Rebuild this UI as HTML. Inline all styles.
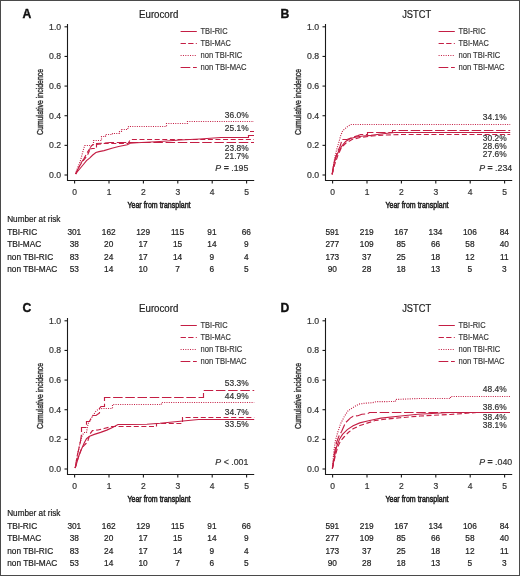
<!DOCTYPE html><html><head><meta charset="utf-8"><style>html,body{margin:0;padding:0;background:#fff;}svg{display:block;font-family:"Liberation Sans",sans-serif;will-change:transform;}text{stroke:currentColor;stroke-width:0.2px;}</style></head><body>
<svg width="520" height="576" viewBox="0 0 520 576">
<rect x="0" y="0" width="520" height="576" fill="#fff"/>
<text x="22.4" y="17.6" font-size="12.2" text-anchor="start" font-weight="bold" font-style="normal" fill="#111" color="#111" style="stroke-width:0.35px">A</text>
<text x="158.7" y="17.6" font-size="10" text-anchor="middle" font-weight="normal" font-style="normal" fill="#222" color="#222" textLength="39.3" lengthAdjust="spacingAndGlyphs">Eurocord</text>
<g stroke="#1a1a1a" stroke-width="1.1" fill="none">
<path d="M67.5 24V180.5H254.2"/>
<path d="M64.5 175H67.5"/>
<path d="M74.6 180.5V183.5"/>
<path d="M64.5 145.36H67.5"/>
<path d="M109 180.5V183.5"/>
<path d="M64.5 115.72H67.5"/>
<path d="M143.4 180.5V183.5"/>
<path d="M64.5 86.08H67.5"/>
<path d="M177.8 180.5V183.5"/>
<path d="M64.5 56.44H67.5"/>
<path d="M212.2 180.5V183.5"/>
<path d="M64.5 26.8H67.5"/>
<path d="M246.6 180.5V183.5"/>
</g>
<text x="61.2" y="178" font-size="8.7" text-anchor="end" font-weight="normal" font-style="normal" fill="#333" color="#333">0.0</text>
<text x="74.6" y="194.9" font-size="8.5" text-anchor="middle" font-weight="normal" font-style="normal" fill="#333" color="#333">0</text>
<text x="61.2" y="148.36" font-size="8.7" text-anchor="end" font-weight="normal" font-style="normal" fill="#333" color="#333">0.2</text>
<text x="109" y="194.9" font-size="8.5" text-anchor="middle" font-weight="normal" font-style="normal" fill="#333" color="#333">1</text>
<text x="61.2" y="118.72" font-size="8.7" text-anchor="end" font-weight="normal" font-style="normal" fill="#333" color="#333">0.4</text>
<text x="143.4" y="194.9" font-size="8.5" text-anchor="middle" font-weight="normal" font-style="normal" fill="#333" color="#333">2</text>
<text x="61.2" y="89.08" font-size="8.7" text-anchor="end" font-weight="normal" font-style="normal" fill="#333" color="#333">0.6</text>
<text x="177.8" y="194.9" font-size="8.5" text-anchor="middle" font-weight="normal" font-style="normal" fill="#333" color="#333">3</text>
<text x="61.2" y="59.44" font-size="8.7" text-anchor="end" font-weight="normal" font-style="normal" fill="#333" color="#333">0.8</text>
<text x="212.2" y="194.9" font-size="8.5" text-anchor="middle" font-weight="normal" font-style="normal" fill="#333" color="#333">4</text>
<text x="61.2" y="29.8" font-size="8.7" text-anchor="end" font-weight="normal" font-style="normal" fill="#333" color="#333">1.0</text>
<text x="246.6" y="194.9" font-size="8.5" text-anchor="middle" font-weight="normal" font-style="normal" fill="#333" color="#333">5</text>
<text style="stroke-width:0.4px" transform="translate(42.8,101.9) rotate(-90)" font-size="9" text-anchor="middle" fill="#333" color="#333" textLength="66" lengthAdjust="spacingAndGlyphs">Cumulative incidence</text>
<text x="159" y="208.4" font-size="9.8" text-anchor="middle" font-weight="normal" font-style="normal" fill="#222" color="#222" textLength="63" lengthAdjust="spacingAndGlyphs" style="stroke-width:0.55px">Year from transplant</text>
<path d="M180.6 31.5H196.8" stroke="#c41e44" stroke-width="1" fill="none" />
<text x="200.5" y="33.8" font-size="8.4" text-anchor="start" font-weight="normal" font-style="normal" fill="#333" color="#333" textLength="27.1" lengthAdjust="spacingAndGlyphs" style="stroke-width:0.15px">TBI-RIC</text>
<path d="M180.6 43.5H196.8" stroke="#c41e44" stroke-width="1" fill="none" stroke-dasharray="5.3 2.3"/>
<text x="200.5" y="45.8" font-size="8.4" text-anchor="start" font-weight="normal" font-style="normal" fill="#333" color="#333" textLength="30.4" lengthAdjust="spacingAndGlyphs" style="stroke-width:0.15px">TBI-MAC</text>
<path d="M180.6 55.5H196.8" stroke="#c41e44" stroke-width="1" fill="none" stroke-dasharray="1 1.36"/>
<text x="200.5" y="57.8" font-size="8.4" text-anchor="start" font-weight="normal" font-style="normal" fill="#333" color="#333" textLength="41.8" lengthAdjust="spacingAndGlyphs" style="stroke-width:0.15px">non TBI-RIC</text>
<path d="M180.6 67.5H196.8" stroke="#c41e44" stroke-width="1" fill="none" stroke-dasharray="9.7 2.7"/>
<text x="200.5" y="69.8" font-size="8.4" text-anchor="start" font-weight="normal" font-style="normal" fill="#333" color="#333" textLength="46.1" lengthAdjust="spacingAndGlyphs" style="stroke-width:0.15px">non TBI-MAC</text>
<path d="M75.6 174 L76.5 170.6 L80.25 161.25 L84.6 145.5 H93.5 V140.5 H101.5 V136.5 H105.5 V134.5 H112.5 V133.5 H119.5 V131.5 L121.5 131.5 V129.5 H126.5 V128.5 H128.5 V126.5 H166.5 V123.5 H187.5 V121.5 H254" stroke="#c41e44" stroke-width="1.15" fill="none" stroke-dasharray="1 1.3"/>
<path d="M75.6 174 L78.5 168 L81 163 L84 158.5 L87 153 L89.5 149 L92.75 148.5 H96.5 V143.5 L104 143.1 L110 142.5 H254" stroke="#c41e44" stroke-width="1.15" fill="none" stroke-dasharray="9.5 2.7"/>
<path d="M75.6 174 L79 167 L82.1 161.9 L85.25 158.1 L87.75 154.4 L89.5 150.6 V148.5 L90.25 147.5 L92.75 144.5 H96.5 L104 143.5 H128 L130.5 139.5 H254" stroke="#c41e44" stroke-width="1.15" fill="none" stroke-dasharray="5 2.6"/>
<path d="M75.6 174 L77.75 171.25 L80.9 167.5 L84 163.75 L86.5 160.6 L89.6 158.1 L92.75 155 L95.9 152.5 L99 151.6 L104 150.6 L111.9 148.2 L118.6 146.5 L127.3 144.7 L130.2 143.3 L136.9 142.8 L160 141.5 L180 140 L200 139 L220.8 137.5 H248.5 V135.5 H254 M250 131.5 H254" stroke="#c41e44" stroke-width="1.15" fill="none" />
<text x="248.6" y="118" font-size="8.4" text-anchor="end" font-weight="normal" font-style="normal" fill="#333" color="#333">36.0%</text>
<text x="248.6" y="131" font-size="8.4" text-anchor="end" font-weight="normal" font-style="normal" fill="#333" color="#333">25.1%</text>
<text x="248.6" y="151" font-size="8.4" text-anchor="end" font-weight="normal" font-style="normal" fill="#333" color="#333">23.8%</text>
<text x="248.6" y="159.2" font-size="8.4" text-anchor="end" font-weight="normal" font-style="normal" fill="#333" color="#333">21.7%</text>
<text x="248.4" y="170.5" font-size="8.8" text-anchor="end" font-weight="normal" font-style="normal" fill="#333" color="#333"><tspan font-style="italic">P</tspan> <tspan font-weight="bold">=</tspan> .195</text>
<text x="7.2" y="221.7" font-size="8.2" text-anchor="start" font-weight="normal" font-style="normal" fill="#222" color="#222">Number at risk</text>
<text x="7.2" y="234.6" font-size="8.3" text-anchor="start" font-weight="normal" font-style="normal" fill="#222" color="#222">TBI-RIC</text>
<text x="74.3" y="234.6" font-size="8.3" text-anchor="middle" font-weight="normal" font-style="normal" fill="#222" color="#222">301</text>
<text x="108.7" y="234.6" font-size="8.3" text-anchor="middle" font-weight="normal" font-style="normal" fill="#222" color="#222">162</text>
<text x="143.1" y="234.6" font-size="8.3" text-anchor="middle" font-weight="normal" font-style="normal" fill="#222" color="#222">129</text>
<text x="177.5" y="234.6" font-size="8.3" text-anchor="middle" font-weight="normal" font-style="normal" fill="#222" color="#222">115</text>
<text x="211.9" y="234.6" font-size="8.3" text-anchor="middle" font-weight="normal" font-style="normal" fill="#222" color="#222">91</text>
<text x="246.3" y="234.6" font-size="8.3" text-anchor="middle" font-weight="normal" font-style="normal" fill="#222" color="#222">66</text>
<text x="7.2" y="247" font-size="8.3" text-anchor="start" font-weight="normal" font-style="normal" fill="#222" color="#222">TBI-MAC</text>
<text x="74.3" y="247" font-size="8.3" text-anchor="middle" font-weight="normal" font-style="normal" fill="#222" color="#222">38</text>
<text x="108.7" y="247" font-size="8.3" text-anchor="middle" font-weight="normal" font-style="normal" fill="#222" color="#222">20</text>
<text x="143.1" y="247" font-size="8.3" text-anchor="middle" font-weight="normal" font-style="normal" fill="#222" color="#222">17</text>
<text x="177.5" y="247" font-size="8.3" text-anchor="middle" font-weight="normal" font-style="normal" fill="#222" color="#222">15</text>
<text x="211.9" y="247" font-size="8.3" text-anchor="middle" font-weight="normal" font-style="normal" fill="#222" color="#222">14</text>
<text x="246.3" y="247" font-size="8.3" text-anchor="middle" font-weight="normal" font-style="normal" fill="#222" color="#222">9</text>
<text x="7.2" y="260.3" font-size="8.3" text-anchor="start" font-weight="normal" font-style="normal" fill="#222" color="#222">non TBI-RIC</text>
<text x="74.3" y="260.3" font-size="8.3" text-anchor="middle" font-weight="normal" font-style="normal" fill="#222" color="#222">83</text>
<text x="108.7" y="260.3" font-size="8.3" text-anchor="middle" font-weight="normal" font-style="normal" fill="#222" color="#222">24</text>
<text x="143.1" y="260.3" font-size="8.3" text-anchor="middle" font-weight="normal" font-style="normal" fill="#222" color="#222">17</text>
<text x="177.5" y="260.3" font-size="8.3" text-anchor="middle" font-weight="normal" font-style="normal" fill="#222" color="#222">14</text>
<text x="211.9" y="260.3" font-size="8.3" text-anchor="middle" font-weight="normal" font-style="normal" fill="#222" color="#222">9</text>
<text x="246.3" y="260.3" font-size="8.3" text-anchor="middle" font-weight="normal" font-style="normal" fill="#222" color="#222">4</text>
<text x="7.2" y="272.4" font-size="8.3" text-anchor="start" font-weight="normal" font-style="normal" fill="#222" color="#222">non TBI-MAC</text>
<text x="74.3" y="272.4" font-size="8.3" text-anchor="middle" font-weight="normal" font-style="normal" fill="#222" color="#222">53</text>
<text x="108.7" y="272.4" font-size="8.3" text-anchor="middle" font-weight="normal" font-style="normal" fill="#222" color="#222">14</text>
<text x="143.1" y="272.4" font-size="8.3" text-anchor="middle" font-weight="normal" font-style="normal" fill="#222" color="#222">10</text>
<text x="177.5" y="272.4" font-size="8.3" text-anchor="middle" font-weight="normal" font-style="normal" fill="#222" color="#222">7</text>
<text x="211.9" y="272.4" font-size="8.3" text-anchor="middle" font-weight="normal" font-style="normal" fill="#222" color="#222">6</text>
<text x="246.3" y="272.4" font-size="8.3" text-anchor="middle" font-weight="normal" font-style="normal" fill="#222" color="#222">5</text>
<text x="280.4" y="17.6" font-size="12.2" text-anchor="start" font-weight="bold" font-style="normal" fill="#111" color="#111" style="stroke-width:0.35px">B</text>
<text x="416.7" y="17.6" font-size="10" text-anchor="middle" font-weight="normal" font-style="normal" fill="#222" color="#222" textLength="29" lengthAdjust="spacingAndGlyphs">JSTCT</text>
<g stroke="#1a1a1a" stroke-width="1.1" fill="none">
<path d="M325.5 24V180.5H512.2"/>
<path d="M322.5 175H325.5"/>
<path d="M332.6 180.5V183.5"/>
<path d="M322.5 145.36H325.5"/>
<path d="M367 180.5V183.5"/>
<path d="M322.5 115.72H325.5"/>
<path d="M401.4 180.5V183.5"/>
<path d="M322.5 86.08H325.5"/>
<path d="M435.8 180.5V183.5"/>
<path d="M322.5 56.44H325.5"/>
<path d="M470.2 180.5V183.5"/>
<path d="M322.5 26.8H325.5"/>
<path d="M504.6 180.5V183.5"/>
</g>
<text x="319.2" y="178" font-size="8.7" text-anchor="end" font-weight="normal" font-style="normal" fill="#333" color="#333">0.0</text>
<text x="332.6" y="194.9" font-size="8.5" text-anchor="middle" font-weight="normal" font-style="normal" fill="#333" color="#333">0</text>
<text x="319.2" y="148.36" font-size="8.7" text-anchor="end" font-weight="normal" font-style="normal" fill="#333" color="#333">0.2</text>
<text x="367" y="194.9" font-size="8.5" text-anchor="middle" font-weight="normal" font-style="normal" fill="#333" color="#333">1</text>
<text x="319.2" y="118.72" font-size="8.7" text-anchor="end" font-weight="normal" font-style="normal" fill="#333" color="#333">0.4</text>
<text x="401.4" y="194.9" font-size="8.5" text-anchor="middle" font-weight="normal" font-style="normal" fill="#333" color="#333">2</text>
<text x="319.2" y="89.08" font-size="8.7" text-anchor="end" font-weight="normal" font-style="normal" fill="#333" color="#333">0.6</text>
<text x="435.8" y="194.9" font-size="8.5" text-anchor="middle" font-weight="normal" font-style="normal" fill="#333" color="#333">3</text>
<text x="319.2" y="59.44" font-size="8.7" text-anchor="end" font-weight="normal" font-style="normal" fill="#333" color="#333">0.8</text>
<text x="470.2" y="194.9" font-size="8.5" text-anchor="middle" font-weight="normal" font-style="normal" fill="#333" color="#333">4</text>
<text x="319.2" y="29.8" font-size="8.7" text-anchor="end" font-weight="normal" font-style="normal" fill="#333" color="#333">1.0</text>
<text x="504.6" y="194.9" font-size="8.5" text-anchor="middle" font-weight="normal" font-style="normal" fill="#333" color="#333">5</text>
<text style="stroke-width:0.4px" transform="translate(300.8,101.9) rotate(-90)" font-size="9" text-anchor="middle" fill="#333" color="#333" textLength="66" lengthAdjust="spacingAndGlyphs">Cumulative incidence</text>
<text x="417" y="208.4" font-size="9.8" text-anchor="middle" font-weight="normal" font-style="normal" fill="#222" color="#222" textLength="63" lengthAdjust="spacingAndGlyphs" style="stroke-width:0.55px">Year from transplant</text>
<path d="M438.6 31.5H454.8" stroke="#c41e44" stroke-width="1" fill="none" />
<text x="458.5" y="33.8" font-size="8.4" text-anchor="start" font-weight="normal" font-style="normal" fill="#333" color="#333" textLength="27.1" lengthAdjust="spacingAndGlyphs" style="stroke-width:0.15px">TBI-RIC</text>
<path d="M438.6 43.5H454.8" stroke="#c41e44" stroke-width="1" fill="none" stroke-dasharray="5.3 2.3"/>
<text x="458.5" y="45.8" font-size="8.4" text-anchor="start" font-weight="normal" font-style="normal" fill="#333" color="#333" textLength="30.4" lengthAdjust="spacingAndGlyphs" style="stroke-width:0.15px">TBI-MAC</text>
<path d="M438.6 55.5H454.8" stroke="#c41e44" stroke-width="1" fill="none" stroke-dasharray="1 1.36"/>
<text x="458.5" y="57.8" font-size="8.4" text-anchor="start" font-weight="normal" font-style="normal" fill="#333" color="#333" textLength="41.8" lengthAdjust="spacingAndGlyphs" style="stroke-width:0.15px">non TBI-RIC</text>
<path d="M438.6 67.5H454.8" stroke="#c41e44" stroke-width="1" fill="none" stroke-dasharray="9.7 2.7"/>
<text x="458.5" y="69.8" font-size="8.4" text-anchor="start" font-weight="normal" font-style="normal" fill="#333" color="#333" textLength="46.1" lengthAdjust="spacingAndGlyphs" style="stroke-width:0.15px">non TBI-MAC</text>
<path d="M332.3 174.3 L333 168.6 L334.9 157 L336.8 149.2 L338.8 142.4 L340.7 135.6 L342.7 130.7 L346.6 127.3 L350.5 124.5 H510.2" stroke="#c41e44" stroke-width="1.15" fill="none" stroke-dasharray="1 1.3"/>
<path d="M332.1 174.3 L334 163 L337 153 L340 146.5 L342.2 139.5 H347 L352 137.5 L358 135.6 L360.7 134.5 H367.5 V132.5 H392.5 V130.5 H510.2" stroke="#c41e44" stroke-width="1.15" fill="none" stroke-dasharray="9.5 2.7"/>
<path d="M332.1 174.3 L334.5 165 L338 155 L341.5 147.5 L346 143 L352 139.5 L360 137.5 L372 136 L385 135 L400 134.5 H510.2" stroke="#c41e44" stroke-width="1.15" fill="none" stroke-dasharray="5 2.6"/>
<path d="M332.3 174.3 L333.9 163.8 L335.9 157 L338.8 151.1 L341.7 146.3 L345.6 141.4 L350.5 138.5 L356.3 137 L363.1 136 L371 135.4 L383 133.8 L394.6 132.5 H510.2" stroke="#c41e44" stroke-width="1.15" fill="none" />
<text x="506.6" y="120.4" font-size="8.4" text-anchor="end" font-weight="normal" font-style="normal" fill="#333" color="#333">34.1%</text>
<text x="506.6" y="141.1" font-size="8.4" text-anchor="end" font-weight="normal" font-style="normal" fill="#333" color="#333">30.2%</text>
<text x="506.6" y="149.2" font-size="8.4" text-anchor="end" font-weight="normal" font-style="normal" fill="#333" color="#333">28.6%</text>
<text x="506.6" y="157.1" font-size="8.4" text-anchor="end" font-weight="normal" font-style="normal" fill="#333" color="#333">27.6%</text>
<text x="512.2" y="170.5" font-size="8.8" text-anchor="end" font-weight="normal" font-style="normal" fill="#333" color="#333"><tspan font-style="italic">P</tspan> <tspan font-weight="bold">=</tspan> .234</text>
<text x="332.3" y="234.6" font-size="8.3" text-anchor="middle" font-weight="normal" font-style="normal" fill="#222" color="#222">591</text>
<text x="366.7" y="234.6" font-size="8.3" text-anchor="middle" font-weight="normal" font-style="normal" fill="#222" color="#222">219</text>
<text x="401.1" y="234.6" font-size="8.3" text-anchor="middle" font-weight="normal" font-style="normal" fill="#222" color="#222">167</text>
<text x="435.5" y="234.6" font-size="8.3" text-anchor="middle" font-weight="normal" font-style="normal" fill="#222" color="#222">134</text>
<text x="469.9" y="234.6" font-size="8.3" text-anchor="middle" font-weight="normal" font-style="normal" fill="#222" color="#222">106</text>
<text x="504.3" y="234.6" font-size="8.3" text-anchor="middle" font-weight="normal" font-style="normal" fill="#222" color="#222">84</text>
<text x="332.3" y="247" font-size="8.3" text-anchor="middle" font-weight="normal" font-style="normal" fill="#222" color="#222">277</text>
<text x="366.7" y="247" font-size="8.3" text-anchor="middle" font-weight="normal" font-style="normal" fill="#222" color="#222">109</text>
<text x="401.1" y="247" font-size="8.3" text-anchor="middle" font-weight="normal" font-style="normal" fill="#222" color="#222">85</text>
<text x="435.5" y="247" font-size="8.3" text-anchor="middle" font-weight="normal" font-style="normal" fill="#222" color="#222">66</text>
<text x="469.9" y="247" font-size="8.3" text-anchor="middle" font-weight="normal" font-style="normal" fill="#222" color="#222">58</text>
<text x="504.3" y="247" font-size="8.3" text-anchor="middle" font-weight="normal" font-style="normal" fill="#222" color="#222">40</text>
<text x="332.3" y="260.3" font-size="8.3" text-anchor="middle" font-weight="normal" font-style="normal" fill="#222" color="#222">173</text>
<text x="366.7" y="260.3" font-size="8.3" text-anchor="middle" font-weight="normal" font-style="normal" fill="#222" color="#222">37</text>
<text x="401.1" y="260.3" font-size="8.3" text-anchor="middle" font-weight="normal" font-style="normal" fill="#222" color="#222">25</text>
<text x="435.5" y="260.3" font-size="8.3" text-anchor="middle" font-weight="normal" font-style="normal" fill="#222" color="#222">18</text>
<text x="469.9" y="260.3" font-size="8.3" text-anchor="middle" font-weight="normal" font-style="normal" fill="#222" color="#222">12</text>
<text x="504.3" y="260.3" font-size="8.3" text-anchor="middle" font-weight="normal" font-style="normal" fill="#222" color="#222">11</text>
<text x="332.3" y="272.4" font-size="8.3" text-anchor="middle" font-weight="normal" font-style="normal" fill="#222" color="#222">90</text>
<text x="366.7" y="272.4" font-size="8.3" text-anchor="middle" font-weight="normal" font-style="normal" fill="#222" color="#222">28</text>
<text x="401.1" y="272.4" font-size="8.3" text-anchor="middle" font-weight="normal" font-style="normal" fill="#222" color="#222">18</text>
<text x="435.5" y="272.4" font-size="8.3" text-anchor="middle" font-weight="normal" font-style="normal" fill="#222" color="#222">13</text>
<text x="469.9" y="272.4" font-size="8.3" text-anchor="middle" font-weight="normal" font-style="normal" fill="#222" color="#222">5</text>
<text x="504.3" y="272.4" font-size="8.3" text-anchor="middle" font-weight="normal" font-style="normal" fill="#222" color="#222">3</text>
<text x="22.4" y="311.6" font-size="12.2" text-anchor="start" font-weight="bold" font-style="normal" fill="#111" color="#111" style="stroke-width:0.35px">C</text>
<text x="158.7" y="311.6" font-size="10" text-anchor="middle" font-weight="normal" font-style="normal" fill="#222" color="#222" textLength="39.3" lengthAdjust="spacingAndGlyphs">Eurocord</text>
<g stroke="#1a1a1a" stroke-width="1.1" fill="none">
<path d="M67.5 318V474.5H254.2"/>
<path d="M64.5 469H67.5"/>
<path d="M74.6 474.5V477.5"/>
<path d="M64.5 439.36H67.5"/>
<path d="M109 474.5V477.5"/>
<path d="M64.5 409.72H67.5"/>
<path d="M143.4 474.5V477.5"/>
<path d="M64.5 380.08H67.5"/>
<path d="M177.8 474.5V477.5"/>
<path d="M64.5 350.44H67.5"/>
<path d="M212.2 474.5V477.5"/>
<path d="M64.5 320.8H67.5"/>
<path d="M246.6 474.5V477.5"/>
</g>
<text x="61.2" y="472" font-size="8.7" text-anchor="end" font-weight="normal" font-style="normal" fill="#333" color="#333">0.0</text>
<text x="74.6" y="488.9" font-size="8.5" text-anchor="middle" font-weight="normal" font-style="normal" fill="#333" color="#333">0</text>
<text x="61.2" y="442.36" font-size="8.7" text-anchor="end" font-weight="normal" font-style="normal" fill="#333" color="#333">0.2</text>
<text x="109" y="488.9" font-size="8.5" text-anchor="middle" font-weight="normal" font-style="normal" fill="#333" color="#333">1</text>
<text x="61.2" y="412.72" font-size="8.7" text-anchor="end" font-weight="normal" font-style="normal" fill="#333" color="#333">0.4</text>
<text x="143.4" y="488.9" font-size="8.5" text-anchor="middle" font-weight="normal" font-style="normal" fill="#333" color="#333">2</text>
<text x="61.2" y="383.08" font-size="8.7" text-anchor="end" font-weight="normal" font-style="normal" fill="#333" color="#333">0.6</text>
<text x="177.8" y="488.9" font-size="8.5" text-anchor="middle" font-weight="normal" font-style="normal" fill="#333" color="#333">3</text>
<text x="61.2" y="353.44" font-size="8.7" text-anchor="end" font-weight="normal" font-style="normal" fill="#333" color="#333">0.8</text>
<text x="212.2" y="488.9" font-size="8.5" text-anchor="middle" font-weight="normal" font-style="normal" fill="#333" color="#333">4</text>
<text x="61.2" y="323.8" font-size="8.7" text-anchor="end" font-weight="normal" font-style="normal" fill="#333" color="#333">1.0</text>
<text x="246.6" y="488.9" font-size="8.5" text-anchor="middle" font-weight="normal" font-style="normal" fill="#333" color="#333">5</text>
<text style="stroke-width:0.4px" transform="translate(42.8,395.9) rotate(-90)" font-size="9" text-anchor="middle" fill="#333" color="#333" textLength="66" lengthAdjust="spacingAndGlyphs">Cumulative incidence</text>
<text x="159" y="502.4" font-size="9.8" text-anchor="middle" font-weight="normal" font-style="normal" fill="#222" color="#222" textLength="63" lengthAdjust="spacingAndGlyphs" style="stroke-width:0.55px">Year from transplant</text>
<path d="M180.6 325.5H196.8" stroke="#c41e44" stroke-width="1" fill="none" />
<text x="200.5" y="327.8" font-size="8.4" text-anchor="start" font-weight="normal" font-style="normal" fill="#333" color="#333" textLength="27.1" lengthAdjust="spacingAndGlyphs" style="stroke-width:0.15px">TBI-RIC</text>
<path d="M180.6 337.5H196.8" stroke="#c41e44" stroke-width="1" fill="none" stroke-dasharray="5.3 2.3"/>
<text x="200.5" y="339.8" font-size="8.4" text-anchor="start" font-weight="normal" font-style="normal" fill="#333" color="#333" textLength="30.4" lengthAdjust="spacingAndGlyphs" style="stroke-width:0.15px">TBI-MAC</text>
<path d="M180.6 349.5H196.8" stroke="#c41e44" stroke-width="1" fill="none" stroke-dasharray="1 1.36"/>
<text x="200.5" y="351.8" font-size="8.4" text-anchor="start" font-weight="normal" font-style="normal" fill="#333" color="#333" textLength="41.8" lengthAdjust="spacingAndGlyphs" style="stroke-width:0.15px">non TBI-RIC</text>
<path d="M180.6 361.5H196.8" stroke="#c41e44" stroke-width="1" fill="none" stroke-dasharray="9.7 2.7"/>
<text x="200.5" y="363.8" font-size="8.4" text-anchor="start" font-weight="normal" font-style="normal" fill="#333" color="#333" textLength="46.1" lengthAdjust="spacingAndGlyphs" style="stroke-width:0.15px">non TBI-MAC</text>
<path d="M75.2 468 L77.1 456.3 L79.1 447.7 L80.6 440.6 L81.4 435.2 L81.5 432.4 V427.5 H86.5 V421.5 H89.6 L91 418 L93 415.5 H96 L99.5 413 V408.5 L101 406.5 H104.5 V397.5 H203.5 V390.5 H254.2" stroke="#c41e44" stroke-width="1.15" fill="none" stroke-dasharray="9.5 2.7"/>
<path d="M75.2 468 L77.5 455 L79.8 444 L82 436 L84 432.5 H86.5 L88 424 L92 417 L96 411 L99 409 L101.8 408.5 H112.5 V404.5 H161.5 V402.5 H254.2" stroke="#c41e44" stroke-width="1.15" fill="none" stroke-dasharray="1 1.3"/>
<path d="M75.2 468 L78 458 L81 450 L84.2 445.3 L86 443.5 L87.7 441.4 L90 434 L92.4 430.6 L98 430 L104 428.5 L112 426.5 L118 426.5 H156.5 V423.5 H182.5 V417.5 H254.2" stroke="#c41e44" stroke-width="1.15" fill="none" stroke-dasharray="5 2.6"/>
<path d="M75.2 468 L78.7 456.3 L81.8 448.4 L84.2 443 L86.5 438.7 L89.6 436.3 L94.3 434.4 L100.6 432.4 L106.8 430.1 L113 427.3 L118 424.5 H127.7 L146.9 424.2 L160 423.3 L170 422.3 L198.5 419.5 H254.2" stroke="#c41e44" stroke-width="1.15" fill="none" />
<text x="248.6" y="386.4" font-size="8.4" text-anchor="end" font-weight="normal" font-style="normal" fill="#333" color="#333">53.3%</text>
<text x="248.6" y="398.9" font-size="8.4" text-anchor="end" font-weight="normal" font-style="normal" fill="#333" color="#333">44.9%</text>
<text x="248.6" y="414.5" font-size="8.4" text-anchor="end" font-weight="normal" font-style="normal" fill="#333" color="#333">34.7%</text>
<text x="248.6" y="426.5" font-size="8.4" text-anchor="end" font-weight="normal" font-style="normal" fill="#333" color="#333">33.5%</text>
<text x="248.4" y="464.5" font-size="8.8" text-anchor="end" font-weight="normal" font-style="normal" fill="#333" color="#333"><tspan font-style="italic">P</tspan> &lt; .001</text>
<text x="7.2" y="515.7" font-size="8.2" text-anchor="start" font-weight="normal" font-style="normal" fill="#222" color="#222">Number at risk</text>
<text x="7.2" y="528.6" font-size="8.3" text-anchor="start" font-weight="normal" font-style="normal" fill="#222" color="#222">TBI-RIC</text>
<text x="74.3" y="528.6" font-size="8.3" text-anchor="middle" font-weight="normal" font-style="normal" fill="#222" color="#222">301</text>
<text x="108.7" y="528.6" font-size="8.3" text-anchor="middle" font-weight="normal" font-style="normal" fill="#222" color="#222">162</text>
<text x="143.1" y="528.6" font-size="8.3" text-anchor="middle" font-weight="normal" font-style="normal" fill="#222" color="#222">129</text>
<text x="177.5" y="528.6" font-size="8.3" text-anchor="middle" font-weight="normal" font-style="normal" fill="#222" color="#222">115</text>
<text x="211.9" y="528.6" font-size="8.3" text-anchor="middle" font-weight="normal" font-style="normal" fill="#222" color="#222">91</text>
<text x="246.3" y="528.6" font-size="8.3" text-anchor="middle" font-weight="normal" font-style="normal" fill="#222" color="#222">66</text>
<text x="7.2" y="541" font-size="8.3" text-anchor="start" font-weight="normal" font-style="normal" fill="#222" color="#222">TBI-MAC</text>
<text x="74.3" y="541" font-size="8.3" text-anchor="middle" font-weight="normal" font-style="normal" fill="#222" color="#222">38</text>
<text x="108.7" y="541" font-size="8.3" text-anchor="middle" font-weight="normal" font-style="normal" fill="#222" color="#222">20</text>
<text x="143.1" y="541" font-size="8.3" text-anchor="middle" font-weight="normal" font-style="normal" fill="#222" color="#222">17</text>
<text x="177.5" y="541" font-size="8.3" text-anchor="middle" font-weight="normal" font-style="normal" fill="#222" color="#222">15</text>
<text x="211.9" y="541" font-size="8.3" text-anchor="middle" font-weight="normal" font-style="normal" fill="#222" color="#222">14</text>
<text x="246.3" y="541" font-size="8.3" text-anchor="middle" font-weight="normal" font-style="normal" fill="#222" color="#222">9</text>
<text x="7.2" y="554.3" font-size="8.3" text-anchor="start" font-weight="normal" font-style="normal" fill="#222" color="#222">non TBI-RIC</text>
<text x="74.3" y="554.3" font-size="8.3" text-anchor="middle" font-weight="normal" font-style="normal" fill="#222" color="#222">83</text>
<text x="108.7" y="554.3" font-size="8.3" text-anchor="middle" font-weight="normal" font-style="normal" fill="#222" color="#222">24</text>
<text x="143.1" y="554.3" font-size="8.3" text-anchor="middle" font-weight="normal" font-style="normal" fill="#222" color="#222">17</text>
<text x="177.5" y="554.3" font-size="8.3" text-anchor="middle" font-weight="normal" font-style="normal" fill="#222" color="#222">14</text>
<text x="211.9" y="554.3" font-size="8.3" text-anchor="middle" font-weight="normal" font-style="normal" fill="#222" color="#222">9</text>
<text x="246.3" y="554.3" font-size="8.3" text-anchor="middle" font-weight="normal" font-style="normal" fill="#222" color="#222">4</text>
<text x="7.2" y="566.4" font-size="8.3" text-anchor="start" font-weight="normal" font-style="normal" fill="#222" color="#222">non TBI-MAC</text>
<text x="74.3" y="566.4" font-size="8.3" text-anchor="middle" font-weight="normal" font-style="normal" fill="#222" color="#222">53</text>
<text x="108.7" y="566.4" font-size="8.3" text-anchor="middle" font-weight="normal" font-style="normal" fill="#222" color="#222">14</text>
<text x="143.1" y="566.4" font-size="8.3" text-anchor="middle" font-weight="normal" font-style="normal" fill="#222" color="#222">10</text>
<text x="177.5" y="566.4" font-size="8.3" text-anchor="middle" font-weight="normal" font-style="normal" fill="#222" color="#222">7</text>
<text x="211.9" y="566.4" font-size="8.3" text-anchor="middle" font-weight="normal" font-style="normal" fill="#222" color="#222">6</text>
<text x="246.3" y="566.4" font-size="8.3" text-anchor="middle" font-weight="normal" font-style="normal" fill="#222" color="#222">5</text>
<text x="280.4" y="311.6" font-size="12.2" text-anchor="start" font-weight="bold" font-style="normal" fill="#111" color="#111" style="stroke-width:0.35px">D</text>
<text x="416.7" y="311.6" font-size="10" text-anchor="middle" font-weight="normal" font-style="normal" fill="#222" color="#222" textLength="29" lengthAdjust="spacingAndGlyphs">JSTCT</text>
<g stroke="#1a1a1a" stroke-width="1.1" fill="none">
<path d="M325.5 318V474.5H512.2"/>
<path d="M322.5 469H325.5"/>
<path d="M332.6 474.5V477.5"/>
<path d="M322.5 439.36H325.5"/>
<path d="M367 474.5V477.5"/>
<path d="M322.5 409.72H325.5"/>
<path d="M401.4 474.5V477.5"/>
<path d="M322.5 380.08H325.5"/>
<path d="M435.8 474.5V477.5"/>
<path d="M322.5 350.44H325.5"/>
<path d="M470.2 474.5V477.5"/>
<path d="M322.5 320.8H325.5"/>
<path d="M504.6 474.5V477.5"/>
</g>
<text x="319.2" y="472" font-size="8.7" text-anchor="end" font-weight="normal" font-style="normal" fill="#333" color="#333">0.0</text>
<text x="332.6" y="488.9" font-size="8.5" text-anchor="middle" font-weight="normal" font-style="normal" fill="#333" color="#333">0</text>
<text x="319.2" y="442.36" font-size="8.7" text-anchor="end" font-weight="normal" font-style="normal" fill="#333" color="#333">0.2</text>
<text x="367" y="488.9" font-size="8.5" text-anchor="middle" font-weight="normal" font-style="normal" fill="#333" color="#333">1</text>
<text x="319.2" y="412.72" font-size="8.7" text-anchor="end" font-weight="normal" font-style="normal" fill="#333" color="#333">0.4</text>
<text x="401.4" y="488.9" font-size="8.5" text-anchor="middle" font-weight="normal" font-style="normal" fill="#333" color="#333">2</text>
<text x="319.2" y="383.08" font-size="8.7" text-anchor="end" font-weight="normal" font-style="normal" fill="#333" color="#333">0.6</text>
<text x="435.8" y="488.9" font-size="8.5" text-anchor="middle" font-weight="normal" font-style="normal" fill="#333" color="#333">3</text>
<text x="319.2" y="353.44" font-size="8.7" text-anchor="end" font-weight="normal" font-style="normal" fill="#333" color="#333">0.8</text>
<text x="470.2" y="488.9" font-size="8.5" text-anchor="middle" font-weight="normal" font-style="normal" fill="#333" color="#333">4</text>
<text x="319.2" y="323.8" font-size="8.7" text-anchor="end" font-weight="normal" font-style="normal" fill="#333" color="#333">1.0</text>
<text x="504.6" y="488.9" font-size="8.5" text-anchor="middle" font-weight="normal" font-style="normal" fill="#333" color="#333">5</text>
<text style="stroke-width:0.4px" transform="translate(300.8,395.9) rotate(-90)" font-size="9" text-anchor="middle" fill="#333" color="#333" textLength="66" lengthAdjust="spacingAndGlyphs">Cumulative incidence</text>
<text x="417" y="502.4" font-size="9.8" text-anchor="middle" font-weight="normal" font-style="normal" fill="#222" color="#222" textLength="63" lengthAdjust="spacingAndGlyphs" style="stroke-width:0.55px">Year from transplant</text>
<path d="M438.6 325.5H454.8" stroke="#c41e44" stroke-width="1" fill="none" />
<text x="458.5" y="327.8" font-size="8.4" text-anchor="start" font-weight="normal" font-style="normal" fill="#333" color="#333" textLength="27.1" lengthAdjust="spacingAndGlyphs" style="stroke-width:0.15px">TBI-RIC</text>
<path d="M438.6 337.5H454.8" stroke="#c41e44" stroke-width="1" fill="none" stroke-dasharray="5.3 2.3"/>
<text x="458.5" y="339.8" font-size="8.4" text-anchor="start" font-weight="normal" font-style="normal" fill="#333" color="#333" textLength="30.4" lengthAdjust="spacingAndGlyphs" style="stroke-width:0.15px">TBI-MAC</text>
<path d="M438.6 349.5H454.8" stroke="#c41e44" stroke-width="1" fill="none" stroke-dasharray="1 1.36"/>
<text x="458.5" y="351.8" font-size="8.4" text-anchor="start" font-weight="normal" font-style="normal" fill="#333" color="#333" textLength="41.8" lengthAdjust="spacingAndGlyphs" style="stroke-width:0.15px">non TBI-RIC</text>
<path d="M438.6 361.5H454.8" stroke="#c41e44" stroke-width="1" fill="none" stroke-dasharray="9.7 2.7"/>
<text x="458.5" y="363.8" font-size="8.4" text-anchor="start" font-weight="normal" font-style="normal" fill="#333" color="#333" textLength="46.1" lengthAdjust="spacingAndGlyphs" style="stroke-width:0.15px">non TBI-MAC</text>
<path d="M332.4 468.5 L333.8 452 L335.3 441 L337.7 432.5 L340.6 423.8 L344.5 416.2 L348.3 410.4 L353.1 407.5 L358.9 404.1 L364.7 403.2 L372.3 402.7 L376.2 401.7 L392 401.5 H395.5 V399.5 L418 398.5 H450.5 V396.5 H510" stroke="#c41e44" stroke-width="1.15" fill="none" stroke-dasharray="1 1.3"/>
<path d="M332.4 468.5 L334.5 453 L336.7 442 L339 436 L341.6 431.5 L345.4 422.9 L350.2 418.1 L353.1 416.2 L357.9 415.7 L361.8 414.2 L367.5 413.8 L369.5 412.5 H510" stroke="#c41e44" stroke-width="1.15" fill="none" stroke-dasharray="9.5 2.7"/>
<path d="M332.4 468.5 L335 457 L337.7 447 L340.5 441 L344 437 L348.3 432.5 L353.1 428.7 L360 425.5 L369.5 422.4 L375.2 420.5 L385 419.3 L400 417.8 L420 416 L450 414.5 L476.7 412.5 H510" stroke="#c41e44" stroke-width="1.15" fill="none" stroke-dasharray="5 2.6"/>
<path d="M332.4 468.5 L334.8 455.1 L336.7 446.5 L339.6 438.9 L342.5 434.4 L347.3 429.6 L353.1 425.8 L359.8 422.9 L367.5 421 L374.3 419.5 L381 418.1 L400.7 416 L418 414.2 L450 412.5 H510" stroke="#c41e44" stroke-width="1.15" fill="none" />
<text x="506.6" y="391.9" font-size="8.4" text-anchor="end" font-weight="normal" font-style="normal" fill="#333" color="#333">48.4%</text>
<text x="506.6" y="409.6" font-size="8.4" text-anchor="end" font-weight="normal" font-style="normal" fill="#333" color="#333">38.6%</text>
<text x="506.6" y="420" font-size="8.4" text-anchor="end" font-weight="normal" font-style="normal" fill="#333" color="#333">38.4%</text>
<text x="506.6" y="428.3" font-size="8.4" text-anchor="end" font-weight="normal" font-style="normal" fill="#333" color="#333">38.1%</text>
<text x="512.2" y="464.5" font-size="8.8" text-anchor="end" font-weight="normal" font-style="normal" fill="#333" color="#333"><tspan font-style="italic">P</tspan> <tspan font-weight="bold">=</tspan> .040</text>
<text x="332.3" y="528.6" font-size="8.3" text-anchor="middle" font-weight="normal" font-style="normal" fill="#222" color="#222">591</text>
<text x="366.7" y="528.6" font-size="8.3" text-anchor="middle" font-weight="normal" font-style="normal" fill="#222" color="#222">219</text>
<text x="401.1" y="528.6" font-size="8.3" text-anchor="middle" font-weight="normal" font-style="normal" fill="#222" color="#222">167</text>
<text x="435.5" y="528.6" font-size="8.3" text-anchor="middle" font-weight="normal" font-style="normal" fill="#222" color="#222">134</text>
<text x="469.9" y="528.6" font-size="8.3" text-anchor="middle" font-weight="normal" font-style="normal" fill="#222" color="#222">106</text>
<text x="504.3" y="528.6" font-size="8.3" text-anchor="middle" font-weight="normal" font-style="normal" fill="#222" color="#222">84</text>
<text x="332.3" y="541" font-size="8.3" text-anchor="middle" font-weight="normal" font-style="normal" fill="#222" color="#222">277</text>
<text x="366.7" y="541" font-size="8.3" text-anchor="middle" font-weight="normal" font-style="normal" fill="#222" color="#222">109</text>
<text x="401.1" y="541" font-size="8.3" text-anchor="middle" font-weight="normal" font-style="normal" fill="#222" color="#222">85</text>
<text x="435.5" y="541" font-size="8.3" text-anchor="middle" font-weight="normal" font-style="normal" fill="#222" color="#222">66</text>
<text x="469.9" y="541" font-size="8.3" text-anchor="middle" font-weight="normal" font-style="normal" fill="#222" color="#222">58</text>
<text x="504.3" y="541" font-size="8.3" text-anchor="middle" font-weight="normal" font-style="normal" fill="#222" color="#222">40</text>
<text x="332.3" y="554.3" font-size="8.3" text-anchor="middle" font-weight="normal" font-style="normal" fill="#222" color="#222">173</text>
<text x="366.7" y="554.3" font-size="8.3" text-anchor="middle" font-weight="normal" font-style="normal" fill="#222" color="#222">37</text>
<text x="401.1" y="554.3" font-size="8.3" text-anchor="middle" font-weight="normal" font-style="normal" fill="#222" color="#222">25</text>
<text x="435.5" y="554.3" font-size="8.3" text-anchor="middle" font-weight="normal" font-style="normal" fill="#222" color="#222">18</text>
<text x="469.9" y="554.3" font-size="8.3" text-anchor="middle" font-weight="normal" font-style="normal" fill="#222" color="#222">12</text>
<text x="504.3" y="554.3" font-size="8.3" text-anchor="middle" font-weight="normal" font-style="normal" fill="#222" color="#222">11</text>
<text x="332.3" y="566.4" font-size="8.3" text-anchor="middle" font-weight="normal" font-style="normal" fill="#222" color="#222">90</text>
<text x="366.7" y="566.4" font-size="8.3" text-anchor="middle" font-weight="normal" font-style="normal" fill="#222" color="#222">28</text>
<text x="401.1" y="566.4" font-size="8.3" text-anchor="middle" font-weight="normal" font-style="normal" fill="#222" color="#222">18</text>
<text x="435.5" y="566.4" font-size="8.3" text-anchor="middle" font-weight="normal" font-style="normal" fill="#222" color="#222">13</text>
<text x="469.9" y="566.4" font-size="8.3" text-anchor="middle" font-weight="normal" font-style="normal" fill="#222" color="#222">5</text>
<text x="504.3" y="566.4" font-size="8.3" text-anchor="middle" font-weight="normal" font-style="normal" fill="#222" color="#222">3</text>
<rect x="0.5" y="0.5" width="519" height="575" fill="none" stroke="#4a4a4a" stroke-width="1"/>
</svg></body></html>
